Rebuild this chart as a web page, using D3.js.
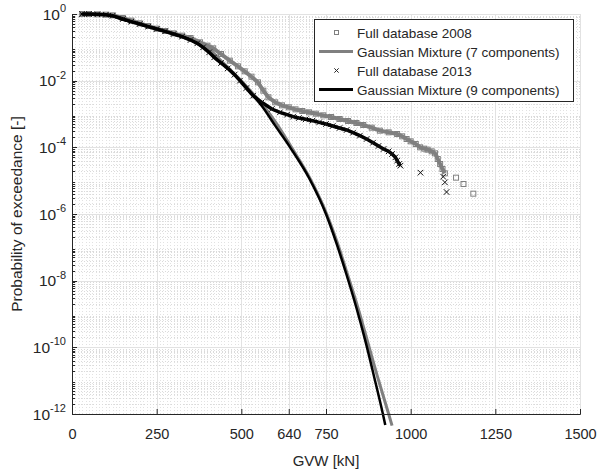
<!DOCTYPE html>
<html lang="en">
<head>
<meta charset="UTF-8">
<title>GVW exceedance</title>
<script src="https://cdn.jsdelivr.net/npm/d3@7"></script>
<style>
    body { margin: 0; background: #fff; }
    text { font-family: "Liberation Sans", Arial, sans-serif; fill: #262626; }
</style>
</head>
<body>
<script>
    // GVW [kN] vs log10 of exceedance probability
    let data2008 = [[30,0],[50,0],[75,-0.01],[100,-0.02],[120,-0.04],[150,-0.12],[175,-0.2],[200,-0.28],
        [225,-0.36],[250,-0.44],[275,-0.51],[300,-0.58],[325,-0.65],[350,-0.72],[378,-0.85],[400,-0.95],
        [417,-1.03],[440,-1.2],[466,-1.4],[490,-1.57],[510,-1.72],[530,-1.88],[549,-2.05],[565,-2.3],
        [580,-2.5],[600,-2.65],[620,-2.74],[640,-2.8],[660,-2.86],[680,-2.91],[700,-2.95],[720,-2.99],
        [742,-3.04],[765,-3.09],[790,-3.15],[815,-3.21],[840,-3.27],[860,-3.33],[885,-3.41],[909,-3.5],
        [935,-3.55],[960,-3.6],[975,-3.67],[988,-3.75],[1000,-3.82],[1015,-3.9],[1028,-4.0],[1040,-4.04],
        [1050,-4.07],[1062,-4.12],[1072,-4.18],[1080,-4.35],[1087,-4.5],[1094,-4.65],[1101,-4.78]];
    let tail2008 = [[1134,-4.91],[1156,-5.1],[1185,-5.39]];

    let data2013 = [[30,0],[50,0],[75,-0.01],[100,-0.02],[120,-0.05],[150,-0.15],[175,-0.23],[200,-0.3],
        [225,-0.38],[250,-0.45],[275,-0.52],[300,-0.6],[325,-0.68],[350,-0.78],[370,-0.88],[387,-1.0],
        [405,-1.15],[420,-1.3],[440,-1.47],[460,-1.63],[480,-1.82],[496,-2.0],[515,-2.22],[535,-2.45],
        [560,-2.65],[590,-2.85],[614,-2.95],[635,-3.02],[653,-3.08],[670,-3.12],[690,-3.16],[710,-3.2],
        [730,-3.25],[750,-3.3],[770,-3.36],[790,-3.42],[811,-3.48],[830,-3.56],[850,-3.65],[870,-3.75],
        [889,-3.86],[905,-3.96],[920,-4.05],[935,-4.12],[945,-4.2],[955,-4.3],[960,-4.4],[966,-4.5],[970,-4.55]];
    let tail2013 = [[1029,-4.76],[1096,-4.88],[1101,-5.05],[1106,-5.34]];

    let gm7 = [[25,0],[75,-0.01],[100,-0.02],[125,-0.07],[150,-0.15],[200,-0.29],[250,-0.44],[300,-0.59],
        [350,-0.76],[400,-1.0],[430,-1.3],[460,-1.6],[500,-2.0],[535,-2.4],[565,-2.75],[605,-3.3],
        [648,-4.0],[702,-4.92],[752,-6.0],[783,-6.85],[813,-7.8],[844,-8.8],[872,-9.8],[902,-10.88],
        [935,-12.0],[945,-12.35]];
    let gm9 = [[25,0],[75,-0.01],[100,-0.02],[125,-0.08],[150,-0.17],[200,-0.3],[250,-0.45],[300,-0.6],
        [350,-0.78],[387,-1.0],[420,-1.3],[450,-1.55],[496,-2.0],[530,-2.4],[560,-2.75],[600,-3.35],
        [644,-4.0],[700,-4.92],[750,-6.0],[780,-6.85],[810,-7.8],[840,-8.82],[866,-9.8],[892,-10.88],
        [918,-12.0],[925,-12.33]];

    let xTicks = [0, 250, 500, 640, 750, 1000, 1250, 1500];
    let yTicks = [-12, -10, -8, -6, -4, -2, 0];
    let legendLabels = ["Full database 2008", "Gaussian Mixture (7 components)",
        "Full database 2013", "Gaussian Mixture (9 components)"];

    let width = 598, height = 470;
    let mLeft = 72, mRight = 580, mTop = 14, mBottom = 414;
    let grey = "#808080", dark = "#262626";

    let svg = d3.select("body").append("svg")
        .attr("width", width)
        .attr("height", height);

    let xScale = d3.scaleLinear().domain([0, 1500]).range([mLeft, mRight]);
    let yScale = d3.scaleLog().domain([1e-12, 1]).range([mBottom, mTop]);
    let px = d => xScale(d[0]);
    let py = d => yScale(Math.pow(10, d[1]));

    // minor grid
    let minorX = d3.range(10, 1500, 10).filter(v => xTicks.indexOf(v) < 0);
    let minorY = [];
    for (let e = -12; e < 0; e++) {
        for (let k = 2; k <= 9; k++) minorY.push(k * Math.pow(10, e));
    }
    let grid = svg.append("g");
    grid.selectAll(".mx").data(minorX).enter().append("line")
        .attr("x1", d => Math.round(xScale(d)) + 0.5).attr("x2", d => Math.round(xScale(d)) + 0.5)
        .attr("y1", mTop).attr("y2", mBottom)
        .attr("stroke", "#e2e2e2").attr("stroke-dasharray", "1,2");
    grid.selectAll(".my").data(minorY).enter().append("line")
        .attr("x1", mLeft).attr("x2", mRight)
        .attr("y1", d => Math.round(yScale(d)) + 0.5).attr("y2", d => Math.round(yScale(d)) + 0.5)
        .attr("stroke", "#dadada").attr("stroke-dasharray", "1,2");
    // major grid
    grid.selectAll(".gx").data(xTicks).enter().append("line")
        .attr("x1", d => Math.round(xScale(d)) + 0.5).attr("x2", d => Math.round(xScale(d)) + 0.5)
        .attr("y1", mTop).attr("y2", mBottom)
        .attr("stroke", "#e2e2e2");
    grid.selectAll(".gy").data(yTicks).enter().append("line")
        .attr("x1", mLeft).attr("x2", mRight)
        .attr("y1", d => Math.round(yScale(Math.pow(10, d))) + 0.5)
        .attr("y2", d => Math.round(yScale(Math.pow(10, d))) + 0.5)
        .attr("stroke", "#e2e2e2");

    let line = d3.line().x(px).y(py);
    let smooth = d3.line().x(px).y(py).curve(d3.curveMonotoneX);
    let plot = svg.append("g");

    // 2008 data: dense squares (band) + isolated tail
    plot.append("path").attr("d", line(data2008))
        .attr("fill", "none").attr("stroke", grey).attr("stroke-width", 4);
    plot.selectAll(".sq").data(data2008.concat(tail2008)).enter().append("rect")
        .attr("x", d => px(d) - 2.5).attr("y", d => py(d) - 2.5)
        .attr("width", 5).attr("height", 5)
        .attr("fill", "none").attr("stroke", grey).attr("stroke-width", 1);

    // Gaussian mixture, 7 components
    plot.append("path").attr("d", smooth(gm7))
        .attr("fill", "none").attr("stroke", grey).attr("stroke-width", 3);

    // 2013 data: crosses
    plot.append("path").attr("d", line(data2013))
        .attr("fill", "none").attr("stroke", "#000").attr("stroke-width", 3.5);
    let cross = d3.symbol().type(d3.symbolTimes).size(22);
    plot.selectAll(".cx").data(data2013.concat(tail2013)).enter().append("path")
        .attr("d", cross)
        .attr("transform", d => "translate(" + px(d) + "," + py(d) + ")")
        .attr("fill", "none").attr("stroke", "#111").attr("stroke-width", 1);

    // Gaussian mixture, 9 components
    plot.append("path").attr("d", smooth(gm9))
        .attr("fill", "none").attr("stroke", "#000").attr("stroke-width", 2.5);

    // axes
    let xAxis = d3.axisBottom(xScale).tickValues(xTicks).tickFormat(d3.format("d"))
        .tickSize(-5).tickPadding(15);
    let gx = svg.append("g").attr("transform", "translate(0," + mBottom + ")").call(xAxis);
    gx.selectAll("text").style("font-size", "14.5px").attr("fill", dark);
    gx.selectAll("line, path").attr("stroke", dark);

    let ga = svg.append("g");
    ga.append("line").attr("x1", mLeft + 0.5).attr("x2", mLeft + 0.5).attr("y1", mTop).attr("y2", mBottom)
        .attr("stroke", dark);
    ga.selectAll(".ymt").data(minorY).enter().append("line")
        .attr("x1", mLeft).attr("x2", mLeft + 3)
        .attr("y1", d => Math.round(yScale(d)) + 0.5).attr("y2", d => Math.round(yScale(d)) + 0.5)
        .attr("stroke", dark);
    ga.selectAll(".yt").data(yTicks).enter().append("line")
        .attr("x1", mLeft).attr("x2", mLeft + 5)
        .attr("y1", d => Math.round(yScale(Math.pow(10, d))) + 0.5)
        .attr("y2", d => Math.round(yScale(Math.pow(10, d))) + 0.5)
        .attr("stroke", dark);
    let yl = ga.selectAll(".yl").data(yTicks).enter().append("text")
        .attr("x", mLeft - 6).attr("y", d => yScale(Math.pow(10, d)) + 5.5)
        .attr("text-anchor", "end").style("font-size", "15.5px");
    yl.append("tspan").text("10");
    yl.append("tspan").attr("dy", -7.5).style("font-size", "11px").text(d => d);

    svg.append("text").text("GVW [kN]")
        .attr("x", (mLeft + mRight) / 2).attr("y", 466)
        .attr("text-anchor", "middle").style("font-size", "15px");
    svg.append("text").text("Probability of exceedance [-]")
        .attr("transform", "translate(22," + ((mTop + mBottom) / 2) + ") rotate(-90)")
        .attr("text-anchor", "middle").style("font-size", "15.5px");

    // legend
    let lg = svg.append("g").attr("transform", "translate(314,19)");
    lg.append("rect").attr("x", 0.5).attr("y", 0.5).attr("width", 259).attr("height", 82)
        .attr("fill", "#fff").attr("stroke", dark);
    let rowY = i => 13.5 + i * 19;
    lg.append("rect").attr("x", 20.5).attr("y", rowY(0) - 2).attr("width", 4).attr("height", 4)
        .attr("fill", "none").attr("stroke", grey);
    lg.append("line").attr("x1", 5).attr("x2", 39).attr("y1", rowY(1)).attr("y2", rowY(1))
        .attr("stroke", grey).attr("stroke-width", 3);
    lg.append("path").attr("d", d3.symbol().type(d3.symbolTimes).size(14))
        .attr("transform", "translate(22.5," + rowY(2) + ")")
        .attr("fill", "none").attr("stroke", dark).attr("stroke-width", 1);
    lg.append("line").attr("x1", 5).attr("x2", 39).attr("y1", rowY(3)).attr("y2", rowY(3))
        .attr("stroke", "#000").attr("stroke-width", 3);
    lg.selectAll(".lt").data(legendLabels).enter().append("text")
        .attr("x", 43).attr("y", (d, i) => rowY(i) + 5)
        .style("font-size", "13.5px").text(d => d);
</script>
</body>
</html>
